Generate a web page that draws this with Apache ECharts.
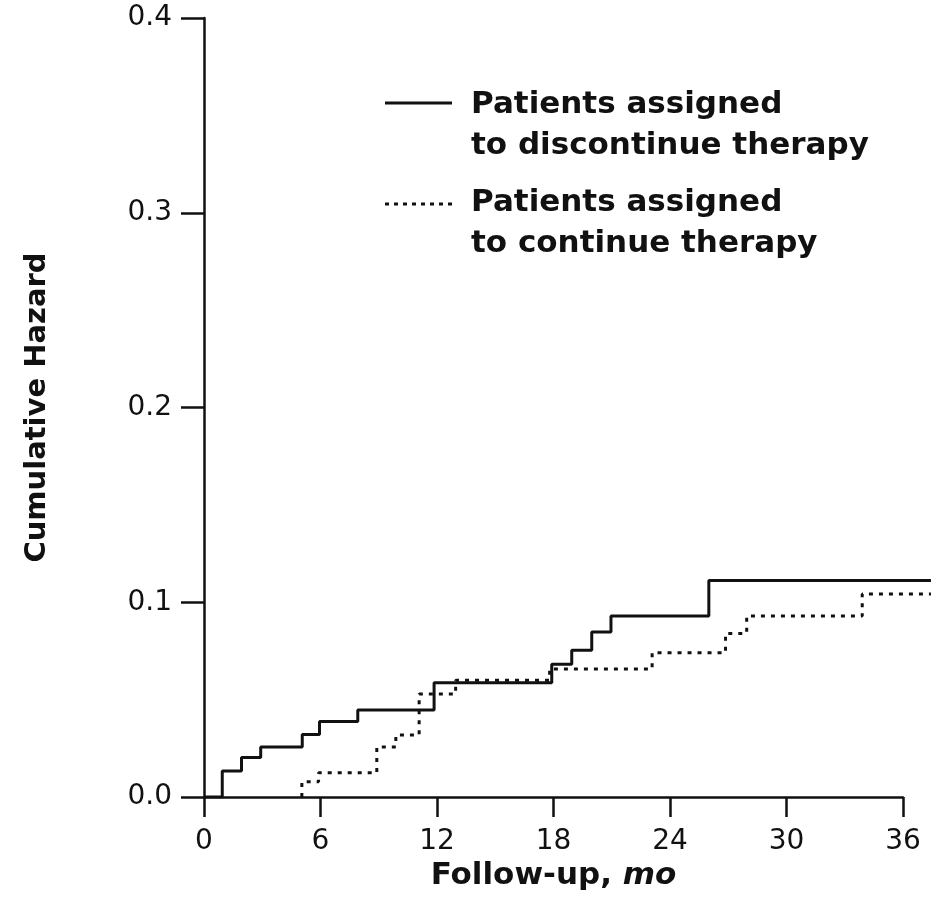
<!DOCTYPE html>
<html>
<head>
<meta charset="utf-8">
<script src="https://cdn.jsdelivr.net/npm/echarts@6/dist/echarts.min.js"></script>
<style>html,body{margin:0;padding:0;background:#fff}#c{width:931px;height:924px}</style>
</head>
<body>
<div id="c"></div>
<script>
// Data (months, cumulative hazard); curves run on past 36 mo to the picture's edge
const discontinueTimes = [0, 0.94, 1.93, 2.92, 5.06, 5.95, 7.92, 11.85, 17.91, 18.94, 19.97, 20.96, 26.0, 37.44];
const discontinueHazard = [0, 0.0133, 0.0203, 0.0257, 0.0321, 0.0388, 0.0447, 0.0587, 0.0682, 0.0753, 0.0847, 0.0929, 0.1112, 0.1112];
const continueTimes = [5.04, 5.04, 5.9, 8.9, 9.88, 11.08, 12.96, 17.8, 23.08, 26.86, 27.95, 33.9, 37.44];
const continueHazard = [0, 0.0078, 0.0124, 0.0257, 0.0318, 0.0529, 0.0600, 0.0657, 0.0741, 0.0840, 0.0929, 0.1042, 0.1042];
const xTicks = [0, 6, 12, 18, 24, 30, 36];
const yTicks = [0, 0.1, 0.2, 0.3, 0.4];
const legendLabels = ['Patients assigned\nto discontinue therapy', 'Patients assigned\nto continue therapy'];

const FONT = '"DejaVu Sans", "Open Sans", sans-serif';
const INK = '#111';
const W = 931, LEFT = 204, RIGHT = 28;
const xMax = xTicks[xTicks.length - 1];
// the hidden axis that carries the curves spans the full width up to the picture's right edge
const xEdge = xMax * (W - LEFT) / (W - LEFT - RIGHT);

const chart = echarts.init(document.getElementById('c'), null, {renderer: 'canvas'});
chart.setOption({
  animation: false,
  backgroundColor: '#fff',
  grid: [
    {left: LEFT, top: 18, right: RIGHT, bottom: 127, containLabel: false},
    {left: LEFT, top: 18, right: 0, bottom: 127, containLabel: false}
  ],
  xAxis: [{
    gridIndex: 0, type: 'value', min: xTicks[0], max: xMax, interval: 6,
    splitLine: {show: false},
    axisLine: {onZero: false, lineStyle: {color: INK, width: 2.5}},
    axisTick: {length: 20, lineStyle: {color: INK, width: 2.5}},
    axisLabel: {color: INK, fontSize: 28, fontFamily: FONT, margin: 31,
      formatter: v => xTicks.includes(v) ? String(v) : ''},
    name: 'Follow-up, {i|mo}', nameLocation: 'middle', nameGap: 57,
    nameTextStyle: {color: INK, fontSize: 31, fontWeight: 'bold', fontFamily: FONT,
      rich: {i: {fontStyle: 'italic', fontWeight: 'bold', fontSize: 31, fontFamily: FONT, color: INK}}}
  }, {
    gridIndex: 1, type: 'value', min: 0, max: xEdge, show: false
  }],
  yAxis: [{
    gridIndex: 0, type: 'value', min: yTicks[0], max: yTicks[yTicks.length - 1], interval: 0.1,
    splitLine: {show: false},
    axisLine: {lineStyle: {color: INK, width: 2.5}},
    axisTick: {length: 23, lineStyle: {color: INK, width: 2.5}},
    axisLabel: {color: INK, fontSize: 28, fontFamily: FONT, margin: 32,
      formatter: v => v.toFixed(1)},
    name: 'Cumulative Hazard', nameLocation: 'middle', nameGap: 152, nameRotate: 90,
    nameTextStyle: {color: INK, fontSize: 29, fontWeight: 'bold', fontFamily: FONT}
  }, {
    gridIndex: 1, type: 'value', min: yTicks[0], max: yTicks[yTicks.length - 1], show: false
  }],
  series: [
    {
      name: 'discontinue', type: 'line', step: 'end', symbol: 'none',
      xAxisIndex: 1, yAxisIndex: 1,
      lineStyle: {color: INK, width: 3, type: 'solid'},
      data: discontinueTimes.map((t, i) => [t, discontinueHazard[i]]), z: 3
    },
    {
      name: 'continue', type: 'line', step: 'end', symbol: 'none',
      xAxisIndex: 1, yAxisIndex: 1,
      lineStyle: {color: INK, width: 3, type: [4, 6]},
      data: continueTimes.map((t, i) => [t, continueHazard[i]]), z: 2
    }
  ],
  graphic: [
    {type: 'line', shape: {x1: 385, y1: 103, x2: 452, y2: 103}, style: {stroke: INK, lineWidth: 3}},
    {type: 'text', left: 471, top: 84, style: {text: legendLabels[0], fill: INK,
      font: 'bold 31px ' + FONT, lineHeight: 41}},
    {type: 'line', shape: {x1: 385, y1: 204, x2: 452, y2: 204}, style: {stroke: INK, lineWidth: 3, lineDash: [4, 5]}},
    {type: 'text', left: 471, top: 182, style: {text: legendLabels[1], fill: INK,
      font: 'bold 31px ' + FONT, lineHeight: 41}}
  ]
});
</script>
</body>
</html>
